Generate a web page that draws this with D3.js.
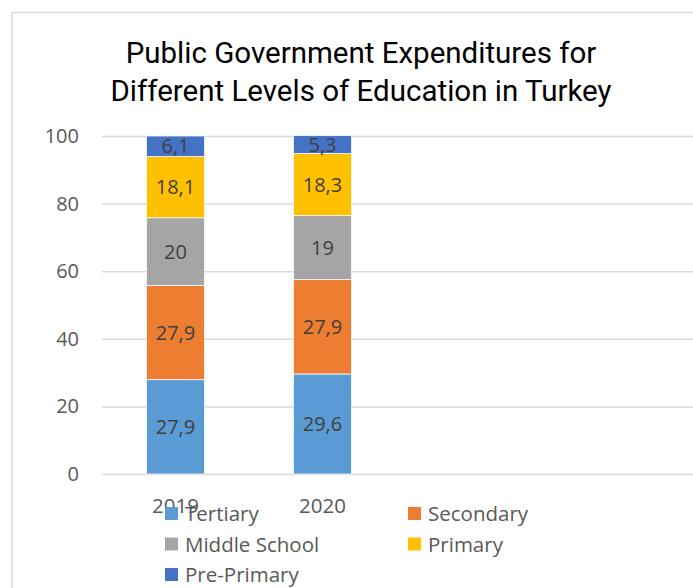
<!DOCTYPE html>
<html>
<head>
<meta charset="utf-8">
<script src="https://cdn.jsdelivr.net/npm/d3@7"></script>
<style>
  html, body { margin: 0; padding: 0; background: #fff; }
</style>
</head>
<body>
<div id="main-container"></div>
<script>
// Data
const YEARS = ['2019', '2020'];
const SERIES = ['Tertiary', 'Secondary', 'Middle School', 'Primary', 'Pre-Primary'];
const TERTIARY = [27.9, 29.6];
const SECONDARY = [27.9, 27.9];
const MIDDLE_SCHOOL = [20, 19];
const PRIMARY = [18.1, 18.3];
const PRE_PRIMARY = [6.1, 5.3];
const Y_TICKS = [0, 20, 40, 60, 80, 100];
const COLORS = ['#5B9BD5', '#ED7D31', '#A5A5A5', '#FFC000', '#4472C4'];

const TITLE_LINES = ['Public Government Expenditures for', 'Different Levels of Education in Turkey'];

const SVG_WIDTH = 693;
const SVG_HEIGHT = 588;
const PLOT = { left: 102, right: 690, top: 136, bottom: 474 };
const STEP = 147;

const ROWS = YEARS.map((year, i) => ({
    year,
    'Tertiary': TERTIARY[i],
    'Secondary': SECONDARY[i],
    'Middle School': MIDDLE_SCHOOL[i],
    'Primary': PRIMARY[i],
    'Pre-Primary': PRE_PRIMARY[i]
}));

const SVG = d3.select('#main-container').append('svg')
    .attr('width', SVG_WIDTH)
    .attr('height', SVG_HEIGHT)
    .style('display', 'block');

// Chart frame
SVG.append('rect')
    .attr('x', 12)
    .attr('y', 12.5)
    .attr('width', SVG_WIDTH + 20)
    .attr('height', SVG_HEIGHT + 20)
    .attr('fill', '#fff')
    .attr('stroke', '#d9d9d9')
    .attr('stroke-width', 1.5);

// Title
SVG.append('g')
    .selectAll('text')
    .data(TITLE_LINES)
    .join('text')
    .attr('x', 361)
    .attr('y', (d, i) => 63 + i * 38)
    .attr('text-anchor', 'middle')
    .style('font-family', '"Liberation Sans Narrow", "Roboto", sans-serif')
    .style('font-size', '29.5px')
    .style('fill', '#000')
    .text(d => d);

// Scales
const X = d3.scaleBand()
    .domain(YEARS)
    .range([PLOT.left, PLOT.left + STEP * YEARS.length])
    .paddingInner(0.605)
    .paddingOuter(0.3025);

const Y = d3.scaleLinear()
    .domain([0, 100])
    .range([PLOT.bottom, PLOT.top]);

const COLOR = d3.scaleOrdinal(SERIES, COLORS);
const FMT = d3.formatLocale({ decimal: ',', thousands: '.', grouping: [3], currency: ['', ''] }).format('~r');

// Gridlines + y axis labels
const yAxis = SVG.append('g')
    .attr('transform', `translate(${PLOT.left}, 0)`)
    .call(d3.axisLeft(Y).tickValues(Y_TICKS).tickSize(-(SVG_WIDTH - PLOT.left)).tickPadding(23));
yAxis.select('.domain').remove();
yAxis.selectAll('.tick line')
    .attr('stroke', '#d9d9d9')
    .attr('stroke-width', 1.5);
yAxis.selectAll('.tick text')
    .style('font-family', '"Open Sans", sans-serif')
    .style('font-size', '20px')
    .attr('fill', '#595959');

// Stacked bars
const STACK = d3.stack().keys(SERIES)(ROWS);

const LAYERS = SVG.append('g')
    .selectAll('g')
    .data(STACK)
    .join('g')
    .attr('fill', d => COLOR(d.key));

LAYERS.selectAll('rect')
    .data(d => d)
    .join('rect')
    .attr('x', d => X(d.data.year))
    .attr('y', d => Y(d[1]))
    .attr('width', X.bandwidth())
    .attr('height', d => Y(d[0]) - Y(d[1]))
    .attr('stroke', '#fff')
    .attr('stroke-width', 0.75);

// Data labels
LAYERS.selectAll('text')
    .data(d => d.map(p => ({ p, key: d.key })))
    .join('text')
    .attr('x', d => X(d.p.data.year) + X.bandwidth() / 2)
    .attr('y', d => (Y(d.p[0]) + Y(d.p[1])) / 2)
    .attr('dy', '0.35em')
    .attr('text-anchor', 'middle')
    .style('font-family', '"Open Sans", sans-serif')
    .style('font-size', '20px')
    .attr('fill', '#404040')
    .text(d => FMT(d.p.data[d.key]));

// X axis labels
SVG.append('g')
    .selectAll('text')
    .data(YEARS)
    .join('text')
    .attr('x', d => X(d) + X.bandwidth() / 2)
    .attr('y', 513)
    .attr('text-anchor', 'middle')
    .style('font-family', '"Open Sans", sans-serif')
    .style('font-size', '20.5px')
    .attr('fill', '#595959')
    .text(d => d);

// Legend
const LEGEND_COLS = [165, 408];
const LEGEND_ROW_Y = 521;
const LEGEND_ROW_GAP = 30.5;
const LEGEND_SIZE = 13;

const LEGEND_ITEMS = SVG.append('g')
    .selectAll('g')
    .data(SERIES)
    .join('g')
    .attr('transform', (d, i) => `translate(${LEGEND_COLS[i % 2]}, ${LEGEND_ROW_Y + Math.floor(i / 2) * LEGEND_ROW_GAP})`);

LEGEND_ITEMS.append('rect')
    .attr('x', 0)
    .attr('y', -14)
    .attr('width', LEGEND_SIZE)
    .attr('height', LEGEND_SIZE)
    .attr('fill', d => COLOR(d));

LEGEND_ITEMS.append('text')
    .attr('x', 20)
    .attr('y', 0)
    .style('font-family', '"Open Sans", sans-serif')
    .style('font-size', '20.5px')
    .attr('fill', '#595959')
    .text(d => d);
</script>
</body>
</html>
